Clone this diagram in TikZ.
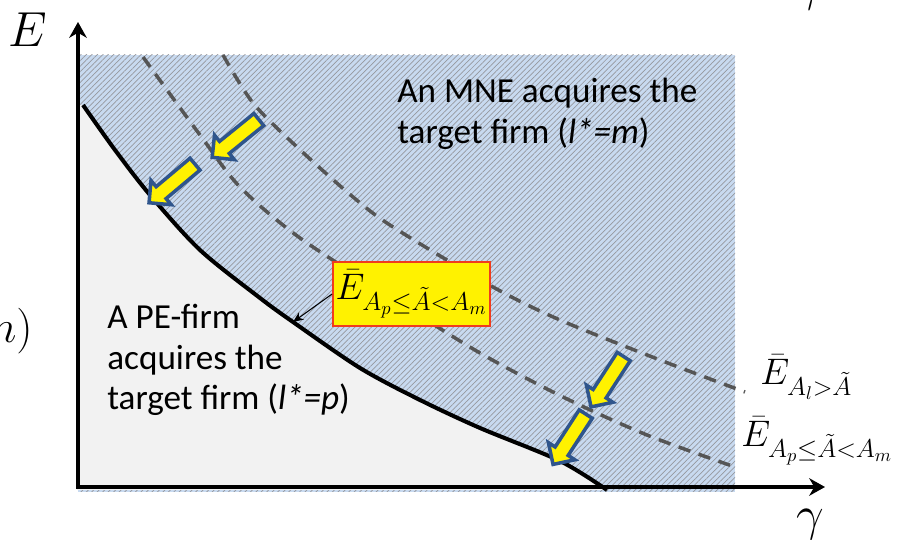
\RequirePackage{fix-cm}
\documentclass[tikz,border=0pt]{standalone}
\usepackage{amsmath, amssymb}
\usepackage{fontspec}
\setsansfont{Carlito}
\usepackage{tikz}
\usetikzlibrary{arrows.meta, shapes.arrows, patterns.meta}
\definecolor{paleblue}{RGB}{200,218,240}
\definecolor{hatchgray}{RGB}{150,152,158}
\definecolor{pegray}{RGB}{242,242,242}
\definecolor{dashgray}{RGB}{85,85,85}
\definecolor{arrowblue}{RGB}{47,85,140}
\definecolor{boxred}{RGB}{240,60,30}

\begin{document}
\begin{tikzpicture}[
  dashcurve/.style={dashgray, line width=2pt, dash pattern=on 7pt off 5pt},
  shiftarrow/.style={single arrow, draw=arrowblue, fill=yellow, line width=2pt,
    minimum height=1.2cm, inner sep=0.12cm, single arrow head extend=0.16cm},
  bigmath/.style={font=\fontsize{21}{25}\selectfont},
  axismath/.style={font=\fontsize{28}{32}\selectfont, inner sep=0pt},
  region/.style={font=\sffamily\fontsize{20}{23}\selectfont, align=left, inner sep=0pt}
]
  \useasboundingbox (-1.56,-1.06) rectangle (16.48,9.74);

  % MNE region (hatched)
  \fill[paleblue] (0,-0.1) rectangle (13.14,8.64);
  \fill[pattern={Lines[angle=45, distance=2.2pt, line width=0.4pt]}, pattern color=hatchgray]
    (0,-0.1) rectangle (13.14,8.64);

  % PE region under the frontier
  \fill[pegray] (0,7.64) -- plot[smooth] coordinates {(0.10,7.64) (0.74,6.74) (1.44,5.84)
    (2.44,4.74) (3.64,3.78) (4.30,3.30) (5.64,2.38) (6.84,1.74) (8.04,1.18) (9.64,0.52)
    (10.58,-0.06)} -- (0,-0.06) -- cycle;

  % shifted frontiers
  \draw[dashcurve] plot[smooth] coordinates {(2.9,8.64) (3.5,7.68) (4.38,6.8) (5.5,5.8)
    (6.3,5.2) (8.3,4.0) (9.64,3.34) (11.64,2.54) (13.34,1.9)};
  \draw[dashcurve] plot[smooth] coordinates {(1.3,8.6) (2.44,7.04) (3.24,6.0) (4.44,4.98)
    (6.44,3.68) (8.04,2.68) (9.7,1.8) (11.38,1.04) (13.14,0.4)};

  % frontier
  \draw[line width=2.3pt] plot[smooth] coordinates {(0.10,7.64) (0.74,6.74) (1.44,5.84)
    (2.44,4.74) (3.64,3.78) (4.30,3.30) (5.64,2.38) (6.84,1.74) (8.04,1.18) (9.64,0.52)
    (10.58,-0.06)};
  \coordinate (onfrontier) at (4.30,3.30);

  % axes
  \coordinate (O) at (0,0);
  \coordinate (ytip) at (0,9.3);
  \coordinate (xtip) at (14.94,0);
  \draw[line width=2.2pt, {Stealth[length=9pt, width=10pt]}-{Stealth[length=9pt, width=10pt]}]
    (ytip) -- (O) -- (xtip);
  \node[axismath, anchor=base] (ylab) at (-1.0,8.8) {$E$};
  \node[axismath, anchor=base] (xlab) at (14.64,-0.88) {$\gamma$};
  \node[axismath, anchor=base] (xlabtop) at (14.6,9.72) {$\gamma$};
  \node[font=\fontsize{26}{30}\selectfont, anchor=base east, inner sep=0pt] (cutlab)
    at (-0.9,2.88) {$m)$};

  % shifts
  \node[shiftarrow, rotate=219] (shiftA) at (3.21,7.02) {};
  \node[shiftarrow, rotate=220] (shiftB) at (1.94,6.12) {};
  \node[shiftarrow, rotate=237] (shiftC) at (10.63,2.17) {};
  \node[shiftarrow, rotate=237] (shiftD) at (9.87,1.02) {};

  % labels
  \node[region, anchor=north west] (mnetext) at (6.38,8.18)
    {An MNE acquires the\\target firm (\textit{l*=m})};
  \node[region, anchor=north west] (petext) at (0.58,3.66)
    {A PE-firm\\acquires the\\target firm (\textit{l*=p})};

  \node[draw=boxred, line width=1pt, fill=yellow, minimum width=3.14cm, minimum height=1.28cm,
    inner sep=0pt, bigmath] (ebox) at (6.67,3.86) {$\bar E_{A_p\le\tilde A<A_m}$};
  \draw[-{Stealth[length=6pt, width=5pt]}, semithick] (ebox.west) -- (onfrontier);

  \node[bigmath, anchor=base west, inner sep=0pt] (elabhigh) at (13.64,2.04)
    {$\bar E_{A_l>\tilde A}$};
  \node[bigmath, anchor=base west, inner sep=0pt] (elablow) at (13.26,0.8)
    {$\bar E_{A_p\le\tilde A<A_m}$};
\end{tikzpicture}
\end{document}
